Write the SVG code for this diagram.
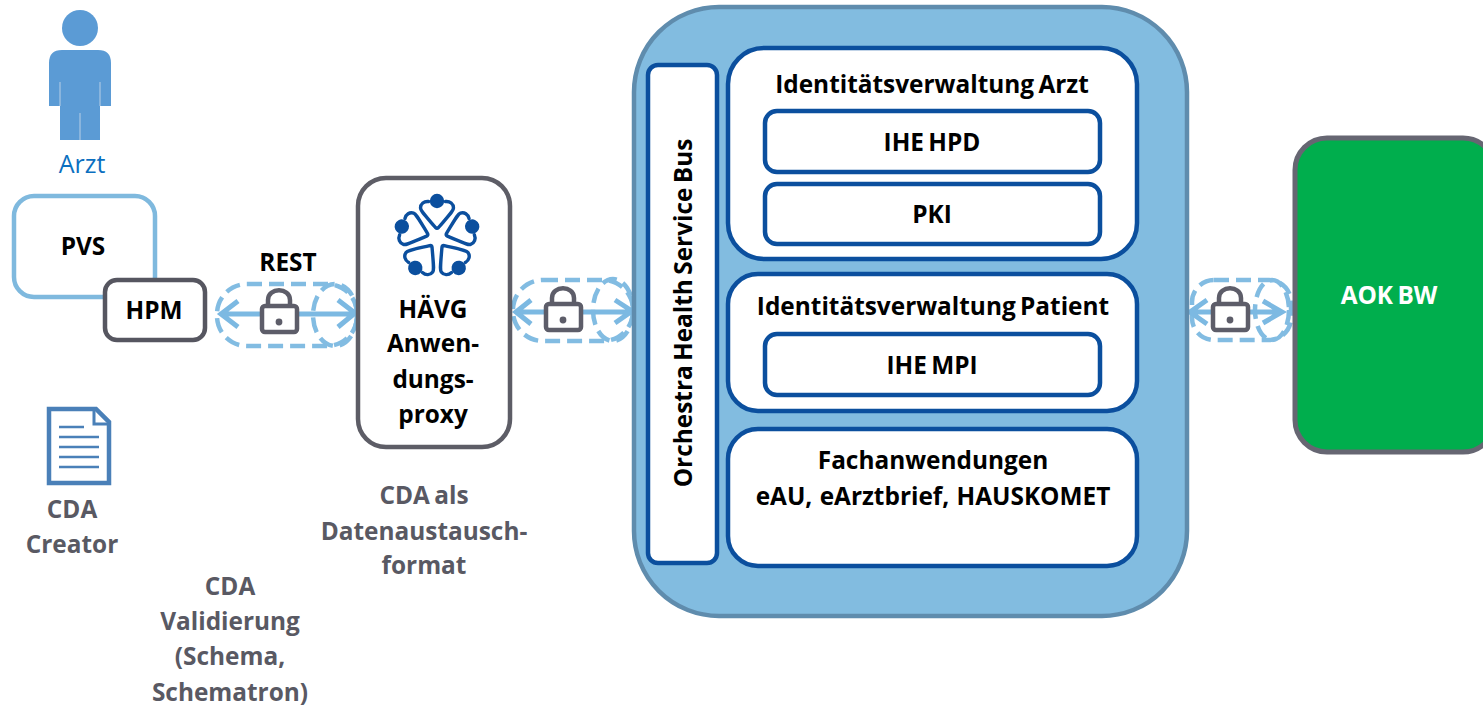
<svg xmlns="http://www.w3.org/2000/svg" xmlns:xlink="http://www.w3.org/1999/xlink" width="1483" height="706" viewBox="0 0 1483 706">
<style>
text{font-family:"Open Sans","Noto Sans","Liberation Sans",sans-serif;font-weight:700;text-anchor:middle;font-size:24.4px;fill:#000;word-spacing:-2px}
.g{fill:#595963}
.sub{fill:#fff;stroke:#0b4f9e;stroke-width:4.5}
.pipe{fill:none;stroke:#82bce2;stroke-width:4.5;stroke-dasharray:15 7}
.arr{fill:none;stroke:#7cb9e2;stroke-width:5}
.lock{fill:#fff;stroke:#5d5d69;stroke-width:4.5}
.shackle{fill:none;stroke:#5d5d69;stroke-width:4.5}
.petal{fill:none;stroke:#0b4f9e;stroke-width:3.4;stroke-linecap:round}
</style>
<defs>
<g id="arm"><circle cx="0" cy="-37" r="7.2" fill="#0b4f9e"/><path class="petal" d="M-8.5-36.5C-13-37-16.5-34-16.5-30C-16.5-27.5-14-25-1.5-10.5Q0-9 1.5-10.5C14-25 16.5-27.5 16.5-30C16.5-34 13-37 8.5-36.5"/></g>
<g id="lockicon"><path class="shackle" d="M-11 0V-6C-11-19 11-19 11-6V0"/><rect class="lock" x="-17" y="0" width="35" height="26" rx="3"/><circle cx="0" cy="16" r="3.4" fill="#5d5d69"/></g>
</defs>

<g id="connectors">
<g id="link-rest">
<rect class="pipe" x="217" y="284" width="140" height="62" rx="30"/><ellipse class="pipe" cx="335" cy="315" rx="22" ry="31"/>
<path class="arr" d="M221 314H355M238 301L221 314L238 327M338 300L355 313L338 327"/>
<use xlink:href="#lockicon" href="#lockicon" x="279" y="306"/>
</g>
<g id="link-bus">
<rect class="pipe" x="513" y="280" width="120" height="61" rx="30"/><ellipse class="pipe" cx="613" cy="310" rx="20" ry="31"/>
<path class="arr" d="M516 312H632M531 300L516 312L531 324M615 300L632 311L615 323"/>
<use xlink:href="#lockicon" href="#lockicon" x="563" y="304"/>
</g>
<g id="link-aok">
<rect class="pipe" x="1192" y="280" width="99" height="60" rx="22"/><ellipse class="pipe" cx="1272" cy="310" rx="17" ry="30"/>
<path class="arr" d="M1190 312H1282M1207 300L1190 312L1207 324M1263 301L1282 312L1263 323"/>
<use xlink:href="#lockicon" href="#lockicon" x="1230" y="304"/>
</g>
</g>

<g id="arzt">
<circle cx="80" cy="28" r="18" fill="#5b9bd5"/>
<path d="M62 50H98Q111 50 111 63V106H100V140H60V106H49V63Q49 50 62 50Z" fill="#5b9bd5"/>
<path d="M60 82V106M100 82V106M80 113V140" stroke="#b9cfe6" stroke-width="1" fill="none"/>
<text x="82" y="173" style="fill:#0b6fc0;font-weight:400;font-size:25px">Arzt</text>
</g>

<g id="pvs">
<rect x="14" y="196" width="141" height="101" rx="20" fill="#fff" stroke="#7fb9de" stroke-width="4.5"/>
<text x="83" y="255">PVS</text>
</g>
<g id="hpm">
<rect x="105" y="280" width="100" height="60" rx="12" fill="#fff" stroke="#565660" stroke-width="4.5"/>
<text x="154" y="319">HPM</text>
</g>
<text id="rest" x="288" y="271">REST</text>

<g id="cda-creator">
<path d="M49 409H96L109 422V483H49Z" fill="#fff" stroke="#4a80b8" stroke-width="4.5"/>
<path d="M94 409V424H109" fill="none" stroke="#4a80b8" stroke-width="3"/>
<path d="M59 427H84M59 437H99M59 447H99M59 457H99M59 467H99" stroke="#4a80b8" stroke-width="2.5" fill="none"/>
<text class="g" x="72" y="518">CDA</text>
<text class="g" x="72" y="553">Creator</text>
</g>
<g id="cda-validierung">
<text class="g" x="230" y="595">CDA</text>
<text class="g" x="230" y="630">Validierung</text>
<text class="g" x="230" y="665">(Schema,</text>
<text class="g" x="230" y="701">Schematron)</text>
</g>

<g id="haevg">
<rect x="358" y="178" width="152" height="269" rx="28" fill="#fff" stroke="#5d5d66" stroke-width="4.5"/>
<g transform="translate(437 238)">
<use xlink:href="#arm" href="#arm"/>
<use xlink:href="#arm" href="#arm" transform="rotate(72)"/>
<use xlink:href="#arm" href="#arm" transform="rotate(144)"/>
<use xlink:href="#arm" href="#arm" transform="rotate(216)"/>
<use xlink:href="#arm" href="#arm" transform="rotate(288)"/>
</g>
<text x="433" y="318">HÄVG</text>
<text x="433" y="352">Anwen-</text>
<text x="433" y="388">dungs-</text>
<text x="433" y="423">proxy</text>
</g>
<g id="cda-format">
<text class="g" x="424" y="504">CDA als</text>
<text class="g" x="424" y="540">Datenaustausch-</text>
<text class="g" x="424" y="574">format</text>
</g>

<g id="orchestra">
<rect x="634" y="7" width="553" height="609" rx="85" fill="#82bce0" stroke="#5f8cad" stroke-width="4.5"/>
</g>
<g id="bus">
<rect class="sub" x="648" y="65" width="69" height="498" rx="10"/>
<text transform="translate(692 313) rotate(-90)">Orchestra Health Service Bus</text>
</g>
<g id="id-arzt">
<rect class="sub" x="728" y="48" width="409" height="211" rx="36"/>
<text x="932" y="93">Identitätsverwaltung Arzt</text>
</g>
<g id="hpd"><rect class="sub" x="765" y="111" width="335" height="61" rx="12"/><text x="932" y="151">IHE HPD</text></g>
<g id="pki"><rect class="sub" x="765" y="184" width="335" height="60" rx="12"/><text x="932" y="223">PKI</text></g>
<g id="id-patient">
<rect class="sub" x="728" y="274" width="409" height="137" rx="30"/>
<text x="933" y="315">Identitätsverwaltung Patient</text>
</g>
<g id="mpi"><rect class="sub" x="765" y="334" width="335" height="61" rx="12"/><text x="932" y="374">IHE MPI</text></g>
<g id="fach">
<rect class="sub" x="728" y="429" width="409" height="137" rx="30"/>
<text x="933" y="469">Fachanwendungen</text>
<text x="933" y="505" style="word-spacing:1px">eAU, eArztbrief, HAUSKOMET</text>
</g>

<g id="aok">
<rect x="1295" y="138" width="200" height="314" rx="32" fill="#00ae4d" stroke="#666672" stroke-width="5"/>
<text x="1389" y="304" style="fill:#fff">AOK BW</text>
</g>
</svg>
